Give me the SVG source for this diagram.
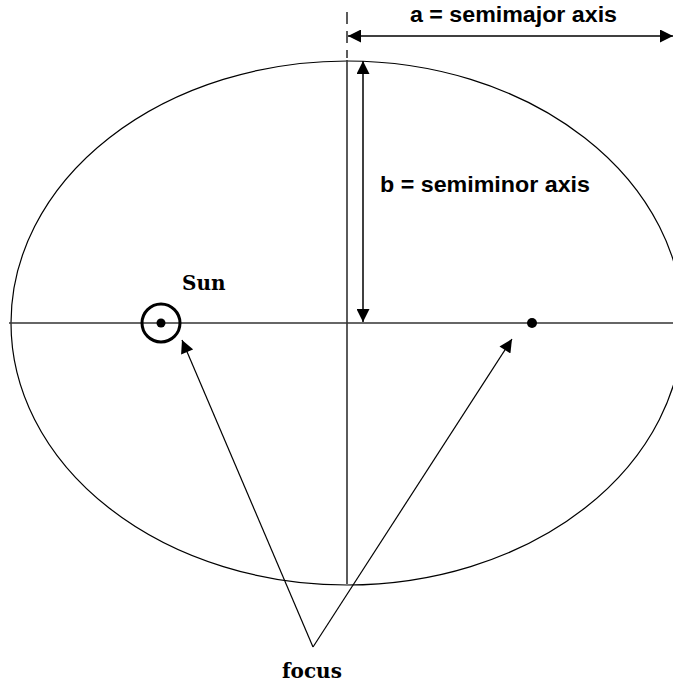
<svg xmlns="http://www.w3.org/2000/svg" width="673" height="683" viewBox="0 0 673 683">
<style>
.ln{stroke:#000;stroke-width:1.2;fill:none}
.ax{stroke:#333;stroke-width:1.6;fill:none}
.lbl{font-family:"Liberation Sans",Arial,sans-serif;font-weight:bold;font-size:22.5px;fill:#000}
.ser{font-family:"DejaVu Serif","Liberation Serif",serif;font-weight:bold;font-size:20px;fill:#000}
</style>
<defs>
<marker id="ah" viewBox="0 0 10 10" refX="10" refY="5" markerWidth="14" markerHeight="13" markerUnits="userSpaceOnUse" orient="auto-start-reverse">
<path d="M0,0 L10,5 L0,10 z" fill="#000"/>
</marker>
</defs>
<rect width="673" height="683" fill="#fff"/>
<g id="orbit">
<ellipse cx="347" cy="323" rx="336" ry="262" class="ln"/>
</g>
<g id="axes">
<line x1="9" y1="323" x2="673" y2="323" class="ax"/>
<line x1="347" y1="60" x2="347" y2="584" class="ax"/>
<line x1="347" y1="12" x2="347" y2="58" class="ax" stroke-dasharray="12,7"/>
</g>
<g id="connectors">
<line x1="348" y1="36" x2="673" y2="36" stroke="#000" stroke-width="1.5" marker-start="url(#ah)" marker-end="url(#ah)"/>
<line x1="363" y1="61" x2="363" y2="322" stroke="#000" stroke-width="1.5" marker-start="url(#ah)" marker-end="url(#ah)"/>
<line x1="313" y1="647" x2="182" y2="340" class="ln" marker-end="url(#ah)"/>
<line x1="313" y1="647" x2="512" y2="339" class="ln" marker-end="url(#ah)"/>
</g>
<g id="sun">
<circle cx="161" cy="323" r="19" fill="none" stroke="#000" stroke-width="3"/>
<circle cx="161" cy="323" r="4.5" fill="#000"/>
<text x="182" y="290" class="ser">Sun</text>
</g>
<g id="focus2">
<circle cx="532" cy="323" r="5" fill="#000"/>
</g>
<g id="labels">
<text x="410" y="22" class="lbl" textLength="207" lengthAdjust="spacingAndGlyphs">a = semimajor axis</text>
<text x="380" y="192" class="lbl" textLength="210" lengthAdjust="spacingAndGlyphs">b = semiminor axis</text>
<text x="282" y="678" class="ser">focus</text>
</g>
</svg>
